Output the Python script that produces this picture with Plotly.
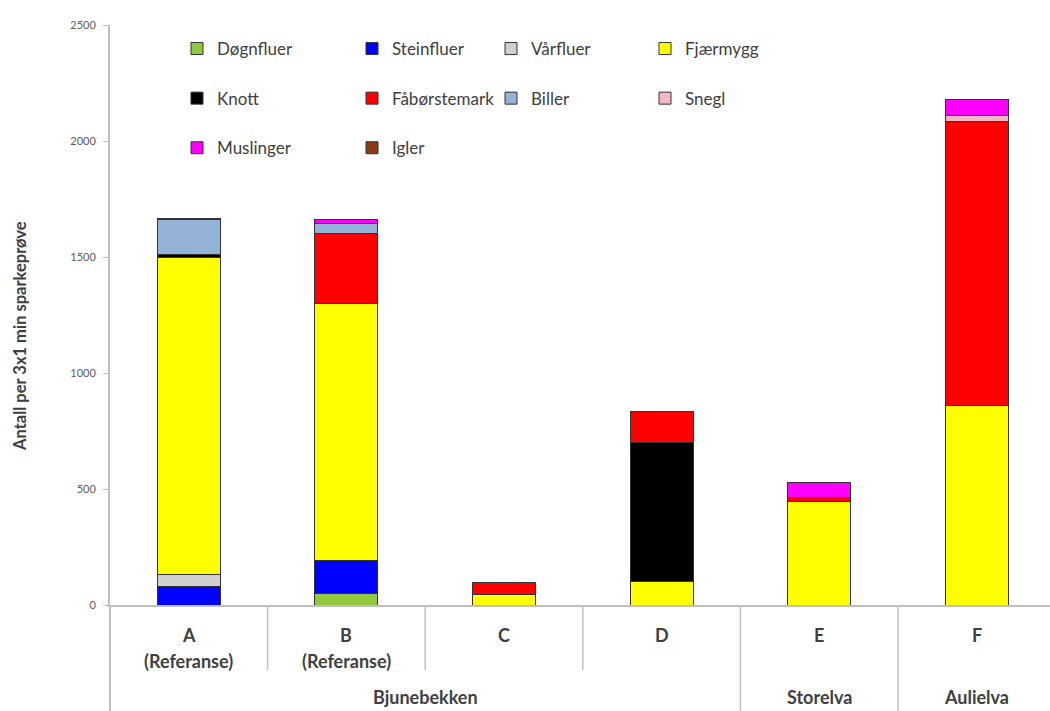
import plotly.graph_objects as go

categories = ["A", "B", "C", "D", "E", "F"]
cat_line1 = ["A", "B", "C", "D", "E", "F"]
cat_line2 = ["(Referanse)", "(Referanse)", "", "", "", ""]
groups = ["Bjunebekken", "Storelva", "Aulielva"]
group_spans = [(0, 3), (4, 4), (5, 5)]

series_names = ["Døgnfluer", "Steinfluer", "Vårfluer", "Fjærmygg", "Knott",
                "Fåbørstemark", "Biller", "Snegl", "Muslinger", "Igler"]
dognfluer = [0, 50, 0, 0, 0, 0]
steinfluer = [80, 140, 0, 0, 0, 0]
varfluer = [50, 0, 0, 0, 0, 0]
fjaermygg = [1370, 1110, 45, 100, 445, 860]
knott = [10, 0, 0, 600, 0, 0]
faborstemark = [0, 300, 52, 133, 20, 1225]
biller = [150, 45, 0, 0, 0, 0]
snegl = [0, 0, 0, 0, 0, 25]
muslinger = [0, 15, 0, 0, 65, 70]
igler = [7, 0, 0, 0, 0, 0]
series_values = [dognfluer, steinfluer, varfluer, fjaermygg, knott,
                 faborstemark, biller, snegl, muslinger, igler]
colors = ["#92C83E", "#0000FF", "#D0D0D0", "#FFFF00", "#000000",
          "#FF0000", "#95B3D7", "#F2B8C6", "#FF00FF", "#8B3A1A"]
legend_of = ["legend", "legend2", "legend3", "legend4", "legend",
             "legend2", "legend3", "legend4", "legend", "legend2"]

FONT = "Lato"
TXT = "#404040"

fig = go.Figure()
for name, vals, col, lg in zip(series_names, series_values, colors, legend_of):
    fig.add_trace(go.Bar(
        x=categories,
        y=[v if v else None for v in vals],
        name=name,
        legend=lg,
        legendgroup=name,
        marker=dict(color=col, line=dict(color="#333333", width=1)),
        width=0.4,
    ))

L, T, W, H = 110, 25, 1050, 711
pw = W - L
ph = 605 - T


def px_to_x(px):
    return (px - L) / pw


def px_to_y(py):
    return (605 - py) / ph


leg_common = dict(
    orientation="v", traceorder="grouped", tracegroupgap=24.5,
    font=dict(family=FONT, size=17, color=TXT),
    bgcolor="rgba(0,0,0,0)", xanchor="left", yanchor="top",
    itemwidth=30,
)
legend_left_px = [177, 352, 491, 645]
ly = px_to_y(31)

fig.update_layout(
    width=W, height=H,
    margin=dict(l=L, r=0, t=T, b=H - 605),
    barmode="stack",
    plot_bgcolor="white", paper_bgcolor="white",
    font=dict(family=FONT, color=TXT),
    legend=dict(x=px_to_x(legend_left_px[0]), y=ly, **leg_common),
    legend2=dict(x=px_to_x(legend_left_px[1]), y=ly, **leg_common),
    legend3=dict(x=px_to_x(legend_left_px[2]), y=ly, **leg_common),
    legend4=dict(x=px_to_x(legend_left_px[3]), y=ly, **leg_common),
    xaxis=dict(
        type="category", range=[-0.5, -0.5 + pw / 157.6],
        showticklabels=False, ticks="", showgrid=False, zeroline=False,
        showline=True, linecolor="#BFBFBF", linewidth=2,
    ),
    yaxis=dict(
        range=[0, 2500], tickvals=[0, 500, 1000, 1500, 2000, 2500],
        ticks="outside", ticklen=5, tickcolor="#BFBFBF", tickwidth=1,
        ticklabelstandoff=5,
        tickfont=dict(family=FONT, size=11, color="#595959"),
        showgrid=False, zeroline=False,
        showline=True, linecolor="#BFBFBF", linewidth=2,
    ),
    showlegend=True,
)

# y axis title
fig.add_annotation(
    text="<b>Antall per 3x1 min sparkeprøve</b>", textangle=-90,
    xref="paper", yref="paper", x=px_to_x(20), y=px_to_y(336),
    xanchor="center", yanchor="middle",
    showarrow=False, font=dict(family=FONT, size=16.5, color=TXT),
)

CAT_FONT = dict(family=FONT, size=18, color=TXT)
# category labels
for c, t1, t2 in zip(categories, cat_line1, cat_line2):
    fig.add_annotation(text=f"<b>{t1}</b>", x=c, xref="x", yref="paper",
                       y=px_to_y(635), showarrow=False,
                       xanchor="center", yanchor="middle", font=CAT_FONT)
    if t2:
        fig.add_annotation(text=f"<b>{t2}</b>", x=c, xref="x", yref="paper",
                           y=px_to_y(661), showarrow=False,
                           xanchor="center", yanchor="middle", font=CAT_FONT)

# group labels
for g, (a, b) in zip(groups, group_spans):
    fig.add_annotation(text=f"<b>{g}</b>", x=(a + b) / 2, xref="x",
                       yref="paper", y=px_to_y(697), showarrow=False,
                       xanchor="center", yanchor="middle", font=CAT_FONT)

# divider lines
y_short = px_to_y(670)
y_long = px_to_y(H)
for i in range(len(categories) - 1):
    boundary = i + 0.5
    is_group_edge = any(boundary == b + 0.5 for (_, b) in group_spans)
    fig.add_shape(type="line", xref="x", yref="paper",
                  x0=boundary, x1=boundary, y0=0,
                  y1=y_long if is_group_edge else y_short,
                  line=dict(color="#BFBFBF", width=1.5))
fig.add_shape(type="line", xref="paper", yref="paper", x0=0, x1=0,
              y0=0, y1=y_long, line=dict(color="#BFBFBF", width=2))

fig.write_html("out.html",
               config={"displayModeBar": False},
               post_script="document.body.style.margin='0';"
                           "document.body.style.overflow='hidden';")
